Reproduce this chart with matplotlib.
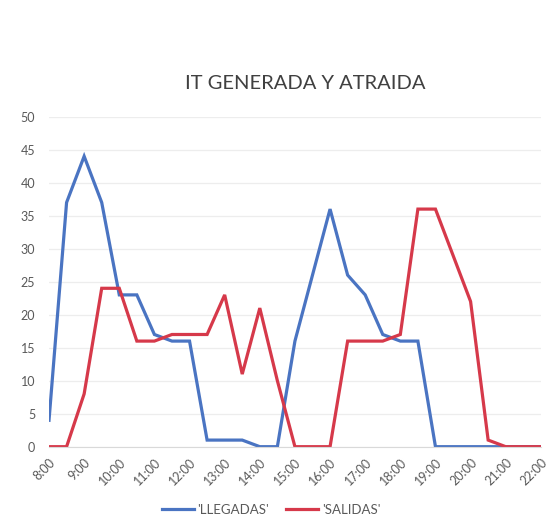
import matplotlib
matplotlib.use("Agg")
import matplotlib.pyplot as plt

times = ["8:00", "8:30", "9:00", "9:30", "10:00", "10:30", "11:00", "11:30",
         "12:00", "12:30", "13:00", "13:30", "14:00", "14:30", "15:00", "15:30",
         "16:00", "16:30", "17:00", "17:30", "18:00", "18:30", "19:00", "19:30",
         "20:00", "20:30", "21:00", "21:30", "22:00"]
llegadas = [4, 37, 44, 37, 23, 23, 17, 16, 16, 1, 1, 1, 0, 0, 16, 26,
            36, 26, 23, 17, 16, 16, 0, 0, 0, 0, 0, 0, 0]
salidas = [0, 0, 8, 24, 24, 16, 16, 17, 17, 17, 23, 11, 21, 10, 0, 0,
           0, 16, 16, 16, 17, 36, 36, 29, 22, 1, 0, 0, 0]
hour_labels = ["8:00", "9:00", "10:00", "11:00", "12:00", "13:00", "14:00", "15:00",
               "16:00", "17:00", "18:00", "19:00", "20:00", "21:00", "22:00"]

plt.rcParams['font.family'] = ['Lato', 'DejaVu Sans']

fig = plt.figure(figsize=(5.57, 5.28), dpi=100)
ax = fig.add_axes([0.088, 0.154, 0.883, 0.625])

x = list(range(len(times)))
ax.plot(x, llegadas, color='#4A74C2', lw=2.3, label="'LLEGADAS'", solid_joinstyle='miter')
ax.plot(x, salidas, color='#D6394A', lw=2.3, label="'SALIDAS'", solid_joinstyle='miter')

ax.set_xlim(0, len(times) - 1)
ax.set_ylim(0, 50)
ax.set_yticks(range(0, 51, 5))
ax.set_xticks(x[::2])
ax.set_xticklabels(hour_labels, rotation=45, ha='right', rotation_mode='anchor')
ax.tick_params(axis='both', length=0, labelsize=9, colors='#595959')
ax.tick_params(axis='x', pad=7)
ax.tick_params(axis='y', pad=10)
ax.grid(axis='y', color='#EDEDED', lw=0.9)
ax.set_axisbelow(True)
for s in ['top', 'right', 'left']:
    ax.spines[s].set_visible(False)
ax.spines['bottom'].set_color('#D9D9D9')

fig.text(0.548, 0.842, "IT GENERADA Y ATRAIDA", ha='center', va='center',
         fontsize=14.5, color='#404040')

fig.legend(loc='center', bbox_to_anchor=(0.487, 0.034), ncol=2, frameon=False,
           fontsize=9.5, labelcolor='#595959', handlelength=2.4, columnspacing=1.3,
           handletextpad=0.3)

fig.savefig("out.png", dpi=100)
